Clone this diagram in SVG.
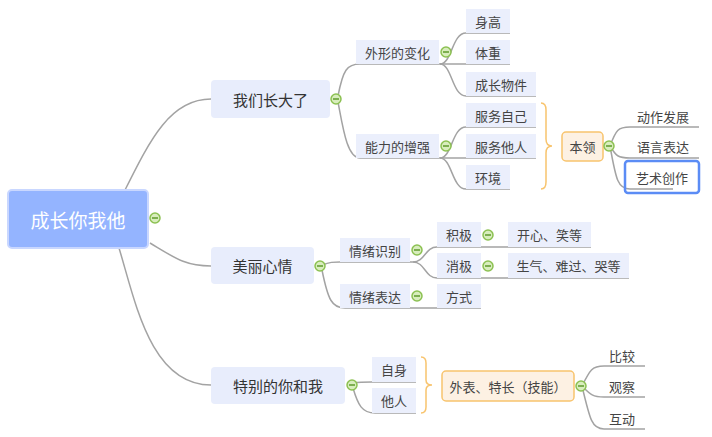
<svg xmlns="http://www.w3.org/2000/svg" xmlns:xlink="http://www.w3.org/1999/xlink" width="712" height="437" viewBox="0 0 712 437">
<defs>
<style>
text{font-family:"Noto Sans CJK SC","Noto Sans",sans-serif;text-anchor:middle;dominant-baseline:central;fill:#444}
.c{fill:none;stroke:#a3a3a3;stroke-width:1.5}
.br{fill:none;stroke:#f8c46e;stroke-width:1.5}
.l1{fill:#e8edfc}
.l2{fill:#ebeffc}
.or{fill:#fdf1e3;stroke:#f8c46e;stroke-width:1.5}
.t1{font-size:15px;fill:#333}
.t2{font-size:13px}
</style>
<g id="tg"><circle r="5" fill="#d8edbd" stroke="#8cc152" stroke-width="1.5"/><line x1="-3" y1="0" x2="3" y2="0" stroke="#5f9a2d" stroke-width="1.5"/></g>
</defs>
<rect width="712" height="437" fill="#fff"/>
<g id="connectors">
<path class="c" d="M125,190 C150,140 170,99 211,99"/>
<path class="c" d="M150,243 C175,258 185,266 211,266"/>
<path class="c" d="M119,248 C135,300 150,385 211,385"/>
<path class="c" d="M338,96 C343,70 347,64 360,64 L440,64"/>
<path class="c" d="M338,102 C343,128 347,158 360,158 L440,158"/>
<path class="c" d="M440,64 C452,64 452,33 466,33 L510,33"/>
<path class="c" d="M440,64 L510,64"/>
<path class="c" d="M440,64 C452,64 452,96 466,96 L536,96"/>
<path class="c" d="M440,158 C452,158 452,127 466,127 L536,127"/>
<path class="c" d="M440,158 L536,158"/>
<path class="c" d="M440,158 C452,158 452,189 466,189 L510,189"/>
<path class="c" d="M610,146 C616,130 618,127 630,127 L699,127"/>
<path class="c" d="M610,146 C616,156 618,158 630,158 L699,158"/>
<path class="c" d="M610,146 C616,180 618,189 630,189 L673,189"/>
<path class="c" d="M322,265 C330,262 333,262 340,262 L413,262"/>
<path class="c" d="M322,270 C328,300 332,308 345,308 L481,308"/>
<path class="c" d="M413,262 C425,262 425,247 437,247 L591,247"/>
<path class="c" d="M413,262 C425,262 425,278 437,278 L629,278"/>
<path class="c" d="M353,383 C360,382 362,382 372,382 L416,382"/>
<path class="c" d="M353,388 C358,405 362,413 375,413 L416,413"/>
<path class="c" d="M582,386 C590,370 592,366 604,366 L645,366"/>
<path class="c" d="M582,386 C590,394 592,397 604,397 L645,397"/>
<path class="c" d="M582,386 C590,420 592,429 604,429 L645,429"/>
<path class="br" d="M541,103 Q546,103 546,110 L546,139 Q546,146 552,146 Q546,146 546,153 L546,182 Q546,189 541,189"/>
<path class="br" d="M421,357 Q426,357 426,363 L426,380 Q426,385 432,385 Q426,385 426,390 L426,407 Q426,413 421,413"/>
</g>
<g id="root">
<rect x="8" y="190" width="140" height="58" rx="4" fill="#94b4ff" stroke="#c9d7ff" stroke-width="2"/>
<text x="78" y="219" style="font-size:19px;fill:#fff">成长你我他</text>
<use href="#tg" x="155" y="218"/>
</g>
<g id="n-grow">
<rect class="l1" x="211" y="80" width="119" height="38" rx="4"/>
<text class="t1" x="270.5" y="99">我们长大了</text>
<use href="#tg" x="336" y="99"/>
</g>
<g id="n-mood">
<rect class="l1" x="211" y="247" width="103" height="37" rx="4"/>
<text class="t1" x="262.5" y="265.5">美丽心情</text>
<use href="#tg" x="320" y="266"/>
</g>
<g id="n-special">
<rect class="l1" x="211" y="367" width="134" height="37" rx="4"/>
<text class="t1" x="278" y="385.5">特别的你和我</text>
<use href="#tg" x="352" y="385"/>
</g>
<g id="n-shape">
<rect class="l2" x="356" y="40" width="83" height="24"/>
<text class="t2" x="397.5" y="52">外形的变化</text>
<use href="#tg" x="446" y="52"/>
</g>
<g id="n-height"><rect class="l2" x="466" y="9" width="44" height="24"/><text class="t2" x="488" y="21">身高</text></g>
<g id="n-weight"><rect class="l2" x="466" y="40" width="44" height="24"/><text class="t2" x="488" y="52">体重</text></g>
<g id="n-items"><rect class="l2" x="466" y="72" width="70" height="24"/><text class="t2" x="501" y="84">成长物件</text></g>
<g id="n-ability">
<rect class="l2" x="356" y="134" width="83" height="24"/>
<text class="t2" x="397.5" y="146">能力的增强</text>
<use href="#tg" x="446" y="146"/>
</g>
<g id="n-self"><rect class="l2" x="466" y="103" width="70" height="24"/><text class="t2" x="501" y="115">服务自己</text></g>
<g id="n-others"><rect class="l2" x="466" y="134" width="70" height="24"/><text class="t2" x="501" y="146">服务他人</text></g>
<g id="n-env"><rect class="l2" x="466" y="165" width="44" height="24"/><text class="t2" x="488" y="177">环境</text></g>
<g id="n-skill">
<rect class="or" x="562" y="132" width="41" height="29" rx="4"/>
<text class="t2" x="582.5" y="146.5">本领</text>
<use href="#tg" x="609" y="146"/>
</g>
<g id="n-motion"><text class="t2" x="663" y="116">动作发展</text></g>
<g id="n-lang"><text class="t2" x="663" y="146">语言表达</text></g>
<g id="n-art">
<text class="t2" x="662" y="177">艺术创作</text>
<rect x="625" y="161" width="74" height="32" rx="3" fill="none" stroke="#5b8cf5" stroke-width="2.5"/>
</g>
<g id="n-recog">
<rect class="l2" x="340" y="238" width="70" height="24"/>
<text class="t2" x="375" y="250">情绪识别</text>
<use href="#tg" x="417" y="250"/>
</g>
<g id="n-pos">
<rect class="l2" x="437" y="222" width="44" height="25"/>
<text class="t2" x="459" y="234.5">积极</text>
<use href="#tg" x="488" y="235"/>
</g>
<g id="n-happy"><rect class="l2" x="508" y="222" width="83" height="25"/><text class="t2" x="549.5" y="234.5">开心、笑等</text></g>
<g id="n-neg">
<rect class="l2" x="437" y="253" width="44" height="25"/>
<text class="t2" x="459" y="265.5">消极</text>
<use href="#tg" x="488" y="266"/>
</g>
<g id="n-sad"><rect class="l2" x="508" y="253" width="121" height="25"/><text class="t2" x="568.5" y="265.5">生气、难过、哭等</text></g>
<g id="n-express">
<rect class="l2" x="340" y="284" width="70" height="24"/>
<text class="t2" x="375" y="296">情绪表达</text>
<use href="#tg" x="417" y="296"/>
</g>
<g id="n-way"><rect class="l2" x="437" y="284" width="44" height="24"/><text class="t2" x="459" y="296">方式</text></g>
<g id="n-me"><rect class="l2" x="372" y="357" width="44" height="25"/><text class="t2" x="394" y="369.5">自身</text></g>
<g id="n-them"><rect class="l2" x="372" y="388" width="44" height="25"/><text class="t2" x="394" y="400.5">他人</text></g>
<g id="n-look">
<rect class="or" x="442" y="371" width="132" height="30" rx="4"/>
<text class="t2" x="508" y="386">外表、特长（技能）</text>
<use href="#tg" x="581" y="386"/>
</g>
<g id="n-compare"><text class="t2" x="622" y="355">比较</text></g>
<g id="n-observe"><text class="t2" x="622" y="386">观察</text></g>
<g id="n-interact"><text class="t2" x="622" y="418">互动</text></g>
</svg>
